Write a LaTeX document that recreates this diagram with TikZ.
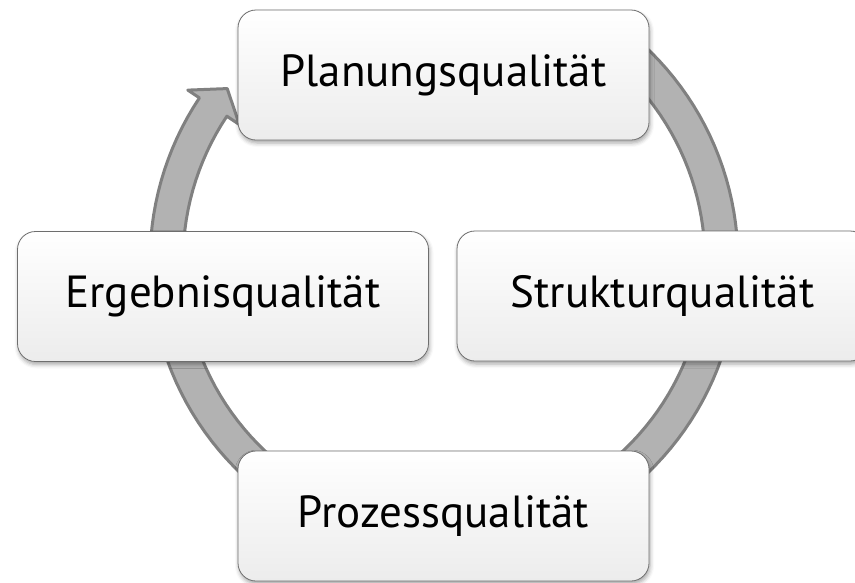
\documentclass[tikz,border=0pt]{standalone}
\usepackage{fontspec}
\setmainfont{PT Sans}
\usetikzlibrary{shadows.blur}
\definecolor{ringfill}{RGB}{178,178,178}
\definecolor{ringline}{RGB}{128,128,128}
\definecolor{boxline}{RGB}{110,110,110}
\definecolor{boxbot}{RGB}{236,236,236}
\begin{document}
\begin{tikzpicture}[x=1pt,y=-1pt,
  qbox/.style={draw=boxline, line width=0.8pt, rounded corners=18pt,
    minimum width=411pt, minimum height=130pt, inner sep=0pt,
    top color=white, bottom color=boxbot,
    blur shadow={shadow xshift=1pt, shadow yshift=-3pt, shadow blur radius=4pt, shadow opacity=35},
    font=\fontsize{45}{54}\selectfont},
  ring/.style={fill=ringfill, draw=ringline, line width=3pt, line join=round}]
\useasboundingbox (0,0) rectangle (855,582);
% cycle arrow
\path[ring]
  plot[domain=-52:213.7, samples=120] ({444+294*cos(\x)},{261+294*sin(\x)})
  -- ({444+308*cos(213.7)},{261+308*sin(213.7)})
  -- ({444+277*cos(218.5)},{261+277*sin(218.5)})
  -- ({444+246*cos(213.7)},{261+246*sin(213.7)})
  -- plot[domain=213.7:-52, samples=120] ({444+261*cos(\x)},{261+261*sin(\x)})
  -- cycle;
\node[qbox] (plan) at (443.5,75) {Planungsqualität};
\node[qbox] (erg) at (223,296.5) {Ergebnisqualität};
\node[qbox] (struk) at (662.5,296) {Strukturqualität};
\node[qbox] (proz) at (443.5,516) {Prozessqualität};
\end{tikzpicture}
\end{document}
